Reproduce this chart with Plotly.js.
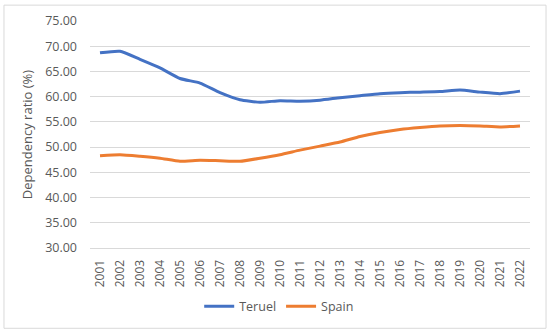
<!DOCTYPE html>
<html>
<head>
<meta charset="utf-8">
<script src="https://cdn.plot.ly/plotly-3.0.1.min.js"></script>
<style>html,body{margin:0;padding:0;background:#fff;}#chart{width:550px;height:334px;}</style>
</head>
<body>
<div id="chart"></div>
<script>
const years = ["2001","2002","2003","2004","2005","2006","2007","2008","2009","2010","2011","2012","2013","2014","2015","2016","2017","2018","2019","2020","2021","2022"];
const teruel = [68.7,69.0,67.4,65.7,63.6,62.7,60.8,59.4,58.9,59.2,59.1,59.3,59.8,60.2,60.6,60.8,60.9,61.0,61.3,60.9,60.6,61.1];
const spain = [48.3,48.5,48.2,47.8,47.2,47.4,47.3,47.2,47.8,48.5,49.4,50.2,51.0,52.1,52.9,53.5,53.9,54.2,54.3,54.2,54.0,54.2];
const yTicks = [30,35,40,45,50,55,60,65,70,75];

const fam = '"Open Sans", sans-serif';
const traces = [
  {x: years, y: teruel, name: 'Teruel', type: 'scatter', mode: 'lines',
   line: {color: '#4472C4', width: 3, shape: 'spline', smoothing: 0.5}},
  {x: years, y: spain, name: 'Spain', type: 'scatter', mode: 'lines',
   line: {color: '#ED7D31', width: 3, shape: 'spline', smoothing: 0.5}}
];
const layout = {
  width: 550, height: 334,
  margin: {l: 90, r: 20, t: 21, b: 84},
  paper_bgcolor: '#fff', plot_bgcolor: '#fff',
  font: {family: fam, color: '#595959', size: 12},
  showlegend: true,
  legend: {orientation: 'h', x: 0.43, xanchor: 'center', y: -0.258, yanchor: 'middle',
    font: {family: fam, color: '#595959', size: 12.5}, itemwidth: 30},
  xaxis: {type: 'category', range: [-0.5, 21.5], tickangle: -90, showgrid: false,
    showline: true, linecolor: '#D9D9D9', linewidth: 1, ticks: '', zeroline: false,
    ticklabelstandoff: 6,
    tickfont: {family: fam, color: '#595959', size: 12}, fixedrange: true},
  yaxis: {range: [30, 75], tickvals: yTicks, tickformat: '.2f', showgrid: true,
    gridcolor: '#D9D9D9', gridwidth: 1, zeroline: false, ticks: '', showline: false,
    ticklabelstandoff: 12,
    tickfont: {family: fam, color: '#595959', size: 12.5},
    title: {text: 'Dependency ratio (%)', font: {family: fam, color: '#595959', size: 13}, standoff: 9}},
  shapes: [{type: 'rect', xref: 'paper', yref: 'paper', x0: -0.1955, x1: 1.0364, y0: -0.3537, y1: 1.0699,
    line: {color: '#D9D9D9', width: 1}, fillcolor: 'rgba(0,0,0,0)', layer: 'below'}]
};
Plotly.newPlot('chart', traces, layout, {displayModeBar: false, staticPlot: true});
</script>
</body>
</html>
